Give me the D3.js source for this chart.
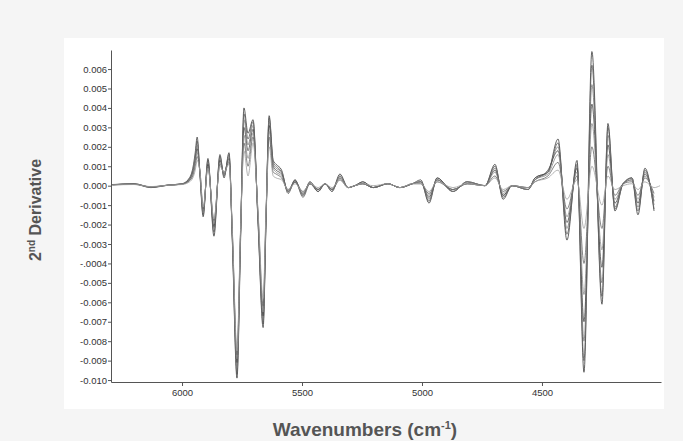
<!DOCTYPE html>
<html>
<head>
<meta charset="utf-8">
<script src="https://cdn.jsdelivr.net/npm/d3@7"></script>
<style>
    body { margin: 0; background: #f5f5f5; }
    svg { display: block; }
</style>
</head>
<body>
<div id="chart"></div>
<script>
// wavenumber grid (cm-1) at the extrema of the spectra
const wavenumbers = [
    6290, 6200, 6130, 6060, 6000, 5975, 5955, 5945, 5937, 5925,
    5912, 5892, 5867, 5842, 5825, 5804, 5790, 5771, 5756, 5742,
    5725, 5704, 5683, 5662, 5650, 5637, 5620, 5608, 5585, 5558,
    5529, 5496, 5467, 5433, 5404, 5375, 5342, 5308, 5280, 5246,
    5204, 5142, 5092, 5040, 5005, 4971, 4937, 4871, 4812, 4737,
    4696, 4662, 4625, 4558, 4529, 4475, 4433, 4396, 4354, 4325,
    4292, 4250, 4225, 4196, 4162, 4125, 4100, 4071, 4033, 4008,
]

// 2nd derivative values, in units of 1e-3
const spectrumA = [
    0.05, 0.10, -0.08, 0.03, 0.10, 0.30, 0.90, 1.70, 2.50, 0.50,
    -1.60, 1.40, -2.60, 1.60, 0.40, 1.70, -3.0, -9.9, -2.8, 4.0,
    2.7, 3.4, -2.0, -7.3, -1.9, 3.6, 1.3, 1.1, 0.8, -0.4,
    0.3, -0.5, 0.2, -0.3, 0.1, -0.3, 0.6, -0.1, 0.0, 0.2,
    -0.1, 0.1, -0.1, 0.1, 0.3, -0.9, 0.4, -0.3, 0.2, 0.0,
    1.1, -0.7, 0.0, -0.2, 0.4, 0.7, 2.4, -2.8, 1.3, -9.6,
    6.9, -6.1, 3.2, -1.3, 0.1, 0.4, -1.5, 0.9, -1.3, null,
]
const spectrumB = [
    0.05, 0.08, -0.10, 0.02, 0.08, 0.25, 0.70, 1.40, 2.30, 0.60,
    -1.50, 1.30, -2.40, 1.50, 0.50, 1.60, -2.9, -9.7, -2.6, 3.7,
    2.4, 3.3, -1.9, -7.1, -1.8, 3.5, 1.2, 1.0, 0.7, -0.3,
    0.3, -0.6, 0.1, -0.3, 0.1, -0.2, 0.5, -0.1, 0.0, 0.2,
    -0.1, 0.1, -0.1, 0.1, 0.2, -0.8, 0.4, -0.3, 0.2, 0.0,
    1.0, -0.6, 0.0, -0.2, 0.4, 0.7, 2.2, -2.5, 1.1, -9.0,
    6.2, -5.7, 3.0, -1.2, 0.1, 0.4, -1.3, 0.8, -1.2, null,
]
const spectrumC = [
    0.04, 0.10, -0.06, 0.03, 0.10, 0.30, 0.80, 1.50, 2.10, 0.50,
    -1.40, 1.20, -2.20, 1.40, 0.50, 1.50, -2.8, -9.4, -2.5, 3.4,
    2.1, 3.1, -1.8, -6.9, -1.7, 3.3, 1.1, 0.9, 0.7, -0.3,
    0.2, -0.5, 0.2, -0.2, 0.1, -0.3, 0.5, -0.1, 0.0, 0.1,
    -0.1, 0.1, -0.1, 0.1, 0.2, -0.7, 0.3, -0.3, 0.2, 0.0,
    0.9, -0.5, 0.0, -0.2, 0.3, 0.7, 2.0, -2.2, 1.0, -8.0,
    5.2, -5.0, 2.6, -1.1, 0.1, 0.4, -1.1, 0.7, -1.0, null,
]
const spectrumD = [
    0.06, 0.09, -0.08, 0.02, 0.08, 0.25, 0.70, 1.30, 1.90, 0.60,
    -1.30, 1.10, -2.10, 1.30, 0.60, 1.40, -2.7, -9.1, -2.4, 3.0,
    1.8, 2.9, -1.7, -6.7, -1.6, 3.1, 1.0, 0.8, 0.6, -0.3,
    0.2, -0.4, 0.1, -0.2, 0.1, -0.2, 0.4, -0.1, 0.0, 0.1,
    -0.1, 0.1, -0.1, 0.1, 0.2, -0.6, 0.3, -0.2, 0.1, 0.0,
    0.8, -0.5, 0.0, -0.1, 0.3, 0.8, 1.8, -1.9, 0.9, -7.0,
    4.2, -4.2, 2.1, -0.9, 0.1, 0.3, -0.9, 0.6, -0.8, null,
]
const spectrumE = [
    0.05, 0.08, -0.07, 0.03, 0.09, 0.20, 0.60, 1.20, 1.70, 0.70,
    -1.30, 1.00, -1.90, 1.20, 0.60, 1.30, -2.6, -8.9, -2.4, 2.6,
    1.4, 2.7, -1.6, -6.5, -1.5, 2.8, 0.9, 0.7, 0.5, -0.3,
    0.2, -0.4, 0.1, -0.2, 0.1, -0.2, 0.4, -0.1, 0.0, 0.1,
    -0.1, 0.1, -0.1, 0.1, 0.2, -0.5, 0.3, -0.2, 0.1, 0.0,
    0.7, -0.4, 0.0, -0.1, 0.3, 0.6, 1.6, -1.6, 0.7, -5.6,
    3.2, -3.3, 1.6, -0.7, 0.1, 0.3, -0.7, 0.5, -0.6, null,
]
const spectrumF = [
    0.04, 0.07, -0.06, 0.02, 0.08, 0.20, 0.50, 1.00, 1.50, 0.70,
    -1.20, 1.00, -1.80, 1.10, 0.70, 1.20, -2.5, -8.7, -2.3, 2.2,
    1.0, 2.5, -1.5, -6.2, -1.4, 2.5, 0.7, 0.6, 0.4, -0.2,
    0.2, -0.3, 0.1, -0.2, 0.1, -0.2, 0.3, -0.1, 0.0, 0.1,
    -0.1, 0.1, -0.1, 0.1, 0.1, -0.4, 0.2, -0.2, 0.1, 0.0,
    0.5, -0.3, 0.0, -0.1, 0.2, 0.5, 1.2, -1.2, 0.5, -4.0,
    2.0, -2.2, 1.0, -0.5, 0.1, 0.2, -0.5, 0.4, -0.4, null,
]
const spectrumG = [
    0.03, 0.06, -0.05, 0.02, 0.06, 0.15, 0.40, 0.80, 1.30, 0.70,
    -1.10, 0.90, -1.70, 1.00, 0.70, 1.10, -2.4, -8.5, -2.2, 1.8,
    0.5, 2.2, -1.4, -5.8, -1.3, 2.0, 0.5, 0.4, 0.3, -0.2,
    0.1, -0.3, 0.1, -0.1, 0.1, -0.1, 0.3, -0.1, 0.0, 0.1,
    0.0, 0.1, -0.1, 0.1, 0.1, -0.3, 0.2, -0.1, 0.1, 0.0,
    0.4, -0.2, 0.0, -0.1, 0.2, 0.4, 0.8, -0.7, 0.3, -2.2,
    1.0, -1.0, 0.5, -0.2, 0.0, 0.1, -0.2, 0.2, -0.1, 0.0,
]

const spectra = [spectrumA, spectrumB, spectrumC, spectrumD, spectrumE, spectrumF, spectrumG]
const lineColours = ["#3a3a3a", "#5a5a5a", "#7a7a7a", "#4a4a4a", "#8a8a8a", "#666666", "#a0a0a0"]

const xTickValues = [6000, 5500, 5000, 4500]
const xTickLabels = ["6000", "5500", "5000", "4500"]
const yTickValues = [0.006, 0.005, 0.004, 0.003, 0.002, 0.001, 0, -0.001, -0.002, -0.003, -0.004, -0.005, -0.006, -0.007, -0.008, -0.009, -0.010]
const yTickLabels = ["0.006", "0.005", "0.004", "0.003", "0.002", "0.001", "0.000", "-0.001", "-0.002", "-0.003", "-.0004", "-0.005", "-0.006", "-0.007", "-0.008", "-0.009", "-0.010"]

const width = 683
const height = 441
const font = "'Liberation Sans', Arial, sans-serif"

const svg = d3.select("#chart")
    .append("svg")
    .attr("width", width)
    .attr("height", height)

svg.append("rect")
    .attr("width", width)
    .attr("height", height)
    .attr("fill", "#f5f5f5")

svg.append("rect")
    .attr("x", 64)
    .attr("y", 38)
    .attr("width", 600)
    .attr("height", 371)
    .attr("fill", "#ffffff")

const x = d3.scaleLinear().domain([6296, 4004]).range([111, 661])
const y = d3.scaleLinear().domain([0.00698, -0.0101]).range([50, 382])

const line = d3.line()
    .defined((d) => d[1] !== null)
    .x((d) => x(d[0]))
    .y((d) => y(d[1] / 1000))
    .curve(d3.curveMonotoneX)

svg.append("g")
    .selectAll("path")
    .data(spectra)
    .enter()
    .append("path")
    .attr("d", (s) => line(wavenumbers.map((w, i) => [w, s[i]])))
    .attr("fill", "none")
    .attr("stroke", (s, i) => lineColours[i])
    .attr("stroke-width", 0.8)
    .attr("stroke-linejoin", "round")

const xAxis = svg.append("g")
    .attr("transform", "translate(0,382)")
    .call(
        d3.axisBottom(x)
            .tickValues(xTickValues)
            .tickFormat((d, i) => xTickLabels[i])
            .tickSize(4)
            .tickSizeOuter(0),
    )

const yAxis = svg.append("g")
    .attr("transform", "translate(111,0)")
    .call(
        d3.axisLeft(y)
            .tickValues(yTickValues)
            .tickFormat((d, i) => yTickLabels[i])
            .tickSize(3)
            .tickSizeOuter(0),
    )

;[xAxis, yAxis].forEach((a) => {
    a.select(".domain").attr("stroke", "#555").attr("stroke-width", 1)
    a.selectAll(".tick line").attr("stroke", "#555")
    a.selectAll(".tick text")
        .attr("fill", "#333")
        .style("font-family", font)
        .style("font-size", "9.5px")
})
yAxis.selectAll(".tick text").attr("x", -4)

svg.append("text")
    .attr("x", 365)
    .attr("y", 436)
    .attr("text-anchor", "middle")
    .attr("fill", "#555")
    .style("font-family", font)
    .style("font-size", "19px")
    .style("font-weight", "bold")
    .call((t) => {
        t.append("tspan").text("Wavenumbers (cm")
        t.append("tspan").attr("dy", -7).style("font-size", "11px").text("-1")
        t.append("tspan").attr("dy", 7).text(")")
    })

svg.append("text")
    .attr("transform", "translate(41,210) rotate(-90)")
    .attr("text-anchor", "middle")
    .attr("fill", "#555")
    .style("font-family", font)
    .style("font-size", "16px")
    .style("font-weight", "bold")
    .call((t) => {
        t.append("tspan").text("2")
        t.append("tspan").attr("dy", -6).style("font-size", "10px").text("nd")
        t.append("tspan").attr("dy", 6).text(" Derivative")
    })
</script>
</body>
</html>
